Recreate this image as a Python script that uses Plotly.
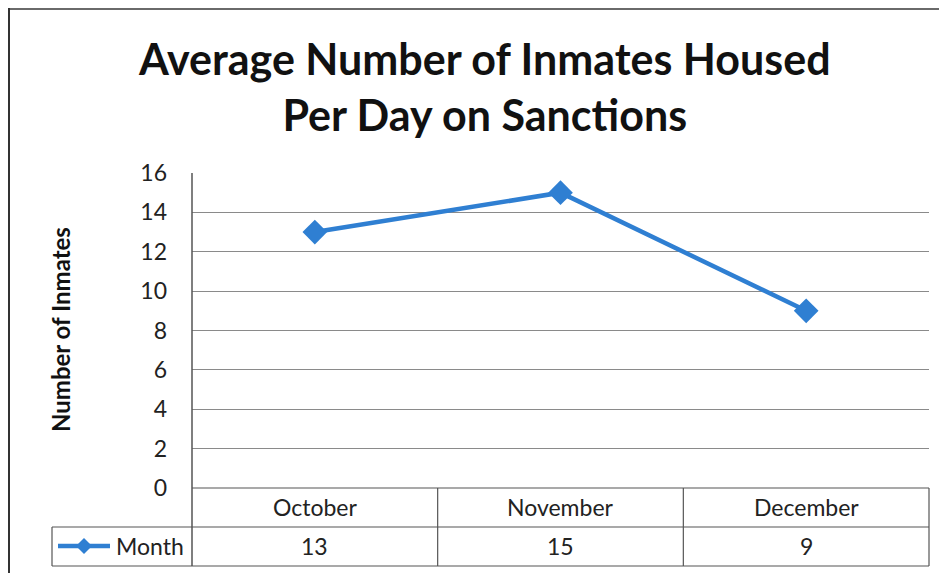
import plotly.graph_objects as go

months = ["October", "November", "December"]
values = [13, 15, 9]
series_name = "Month"
y_ticks = [0, 2, 4, 6, 8, 10, 12, 14, 16]
title_text = "Average Number of Inmates Housed<br>Per Day on Sanctions"
y_title = "Number of Inmates"

OFF = 8  # page body margin
W, H = 947 - OFF, 573 - OFF
# plot area in page pixel coordinates
PL, PR, PT, PB = 192, 929, 173, 488
L, R, T, B = PL - OFF, PR - OFF, PT - OFF, PB - OFF
pw, ph = R - L, B - T

def px(x):
    return (x - OFF - L) / pw

def py(y):
    return (B - (y - OFF)) / ph

blue = "#2f7fd2"
grid = "#8a8a8a"
FONT = "Lato"

fig = go.Figure()
fig.add_trace(go.Scatter(
    x=months, y=values, mode="lines+markers", name=series_name,
    line=dict(color=blue, width=4.5),
    marker=dict(symbol="diamond", size=19, color=blue),
    showlegend=False, cliponaxis=False,
))

shapes = []
def line(x0, y0, x1, y1, color=grid, width=1):
    shapes.append(dict(type="line", xref="paper", yref="paper",
                       x0=px(x0), y0=py(y0), x1=px(x1), y1=py(y1),
                       line=dict(color=color, width=width)))

# outer chart border
line(8, 9, 947, 9, color="#6a6a6a", width=2)
line(9, 8, 9, 573, color="#333333", width=2)
# y axis line extended through the table
line(PL, PT, PL, 566, color="#555555", width=1.5)
# table lines
line(PL, PB, PR, PB, color="#555555", width=1.2)
line(52, 527, PR, 527, color="#555555", width=1.2)
line(52, 566, PR, 566, color="#555555", width=1.2)
line(52, 527, 52, 566, color="#555555", width=1.2)
for i in range(1, 4):
    xx = PL + (PR - PL) * i / 3
    line(xx, PB, xx, 566, color="#555555", width=1.2)

# legend key in table
line(58, 546, 110, 546, color=blue, width=4.5)
shapes.append(dict(type="path", xref="paper", yref="paper",
                   xsizemode="pixel", ysizemode="pixel",
                   xanchor=px(84), yanchor=py(546),
                   path="M -8 0 L 0 8 L 8 0 L 0 -8 Z",
                   fillcolor=blue, line=dict(color=blue, width=0)))

annotations = []
annotations.append(dict(text="<b>" + title_text + "</b>", xref="paper", yref="paper",
                        x=px(484), y=py(86), xanchor="center", yanchor="middle",
                        showarrow=False, font=dict(family=FONT, size=43, color="#111111")))
annotations.append(dict(text="<b>" + y_title + "</b>", xref="paper", yref="paper",
                        x=px(60), y=py(330), xanchor="center", yanchor="middle",
                        textangle=-90, showarrow=False,
                        font=dict(family=FONT, size=24, color="#111111")))
for m, v in zip(months, values):
    annotations.append(dict(text=m, xref="x", yref="paper", x=m, y=py(507),
                            xanchor="center", yanchor="middle",
                            showarrow=False, font=dict(family=FONT, size=23, color="#222222")))
    annotations.append(dict(text=str(v), xref="x", yref="paper", x=m, y=py(546),
                            xanchor="center", yanchor="middle",
                            showarrow=False, font=dict(family=FONT, size=23, color="#222222")))
annotations.append(dict(text=series_name, xref="paper", yref="paper", x=px(150), y=py(546),
                        xanchor="center", yanchor="middle",
                        showarrow=False, font=dict(family=FONT, size=23, color="#222222")))

fig.update_layout(
    width=W, height=H,
    margin=dict(l=L, r=W - R, t=T, b=H - B),
    paper_bgcolor="white", plot_bgcolor="white",
    shapes=shapes, annotations=annotations,
    xaxis=dict(range=[-0.5, 2.5], showticklabels=False, showgrid=False,
               zeroline=False, showline=False, fixedrange=True),
    yaxis=dict(range=[0, 16], tickvals=y_ticks, showgrid=True, gridcolor=grid,
               gridwidth=1, zeroline=False, showline=False,
               ticklabelstandoff=24,
               tickfont=dict(family=FONT, size=23, color="#222222")),
)

fig.write_html("out.html")
